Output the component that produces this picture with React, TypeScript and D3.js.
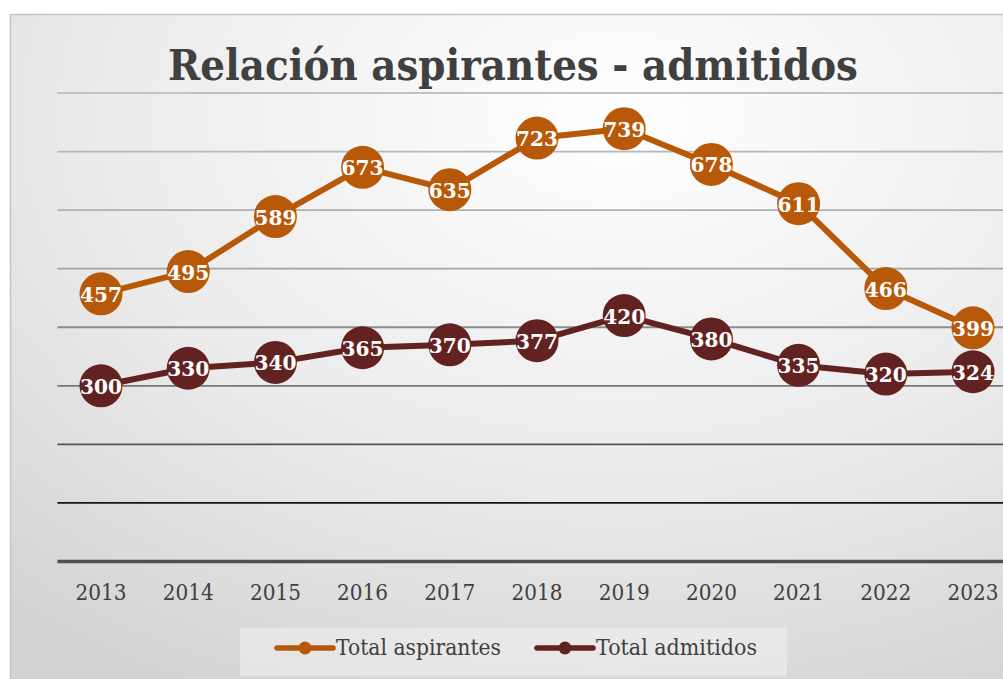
import React from 'react';
import * as d3 from 'd3';

const years = ['2013', '2014', '2015', '2016', '2017', '2018', '2019', '2020', '2021', '2022', '2023'];
const aspirantes = [457, 495, 589, 673, 635, 723, 739, 678, 611, 466, 399];
const admitidos = [300, 330, 340, 365, 370, 377, 420, 380, 335, 320, 324];
const yTicks = [0, 100, 200, 300, 400, 500, 600, 700, 800];

const series = [
    { name: 'Total aspirantes', values: aspirantes, color: '#B8590A' },
    { name: 'Total admitidos', values: admitidos, color: '#632222' },
];

// gridline colours darken towards the base
const gridColor: Record<number, string> = {
    0: '#505050', 100: '#151515', 200: '#555555', 300: '#777777', 400: '#8c8c8c',
    500: '#a4a4a4', 600: '#b0b0b0', 700: '#b8b8b8', 800: '#c2c2c2',
};

const W = 1003;
const H = 679;
const FONT = "'DejaVu Serif', 'Liberation Serif', serif";

export default function App() {
    const x = d3.scaleBand().domain(years).range([57.4, 1016.6]);
    const y = d3.scaleLinear().domain([0, 800]).range([561.5, 93]);
    const cx = (d: string) => (x(d) as number) + x.bandwidth() / 2;

    const line = d3.line<number>()
        .x((_, i) => cx(years[i]))
        .y(d => y(d));

    return (
        <svg width={W} height={H} style={{ position: 'absolute', left: 0, top: 0, display: 'block' }}
            fontFamily={FONT}>
            <defs>
                <radialGradient id="bg" cx="0.6" cy="0.15" r="0.95" gradientUnits="objectBoundingBox">
                    <stop offset="0" stopColor="#ffffff" />
                    <stop offset="0.55" stopColor="#ebebeb" />
                    <stop offset="1" stopColor="#d2d2d2" />
                </radialGradient>
            </defs>
            <rect x={0} y={0} width={W} height={H} fill="#ffffff" />
            <rect x={10.5} y={14.5} width={1010} height={690} fill="url(#bg)" stroke="#c4c4c4" strokeWidth={1.5} />

            <text x={513} y={80} textAnchor="middle" fontSize={43} fontWeight="bold" fill="#404040"
                textLength={690} lengthAdjust="spacingAndGlyphs">
                Relación aspirantes - admitidos
            </text>

            {yTicks.map(t => (
                <line key={t} x1={57.4} x2={1016.6} y1={y(t)} y2={y(t)}
                    stroke={gridColor[t]} strokeWidth={t === 0 ? 3.5 : 1.8} />
            ))}

            {years.map(d => (
                <text key={d} x={cx(d)} y={600} textAnchor="middle" fontSize={22} fill="#404040"
                    textLength={51} lengthAdjust="spacingAndGlyphs">{d}</text>
            ))}

            {series.map(s => (
                <g key={s.name}>
                    <path d={line(s.values) || ''} fill="none" stroke={s.color} strokeWidth={6} strokeLinejoin="round" />
                    {s.values.map((v, i) => (
                        <g key={i}>
                            <circle cx={cx(years[i])} cy={y(v)} r={21.5} fill={s.color} />
                            <text x={cx(years[i])} y={y(v)} dy="0.38em" textAnchor="middle" fontSize={21}
                                fontWeight="bold" fill="#ffffff" textLength={42} lengthAdjust="spacingAndGlyphs">{v}</text>
                        </g>
                    ))}
                </g>
            ))}

            <rect x={240} y={628} width={547} height={48} fill="#ffffff" fillOpacity={0.35} />
            {series.map((s, i) => {
                const lx = i === 0 ? 277 : 537;
                return (
                    <g key={s.name}>
                        <line x1={lx} x2={lx + 56} y1={648} y2={648} stroke={s.color} strokeWidth={5.5} strokeLinecap="round" />
                        <circle cx={lx + 28} cy={648} r={6.5} fill={s.color} />
                        <text x={lx + 59} y={655} fontSize={22} fill="#404040"
                            textLength={i === 0 ? 165 : 161} lengthAdjust="spacingAndGlyphs">{s.name}</text>
                    </g>
                );
            })}
        </svg>
    );
}
